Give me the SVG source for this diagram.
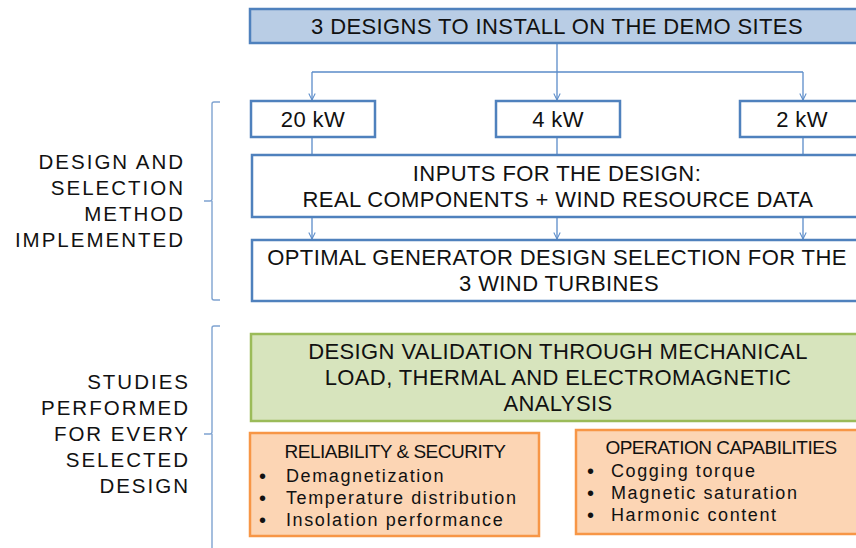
<svg xmlns="http://www.w3.org/2000/svg" width="856" height="548" viewBox="0 0 856 548">
  <style>
    text { font-family: "Liberation Sans", Arial, sans-serif; fill: #111; }
    .main { font-size: 22px; letter-spacing: 0.4px; text-anchor: middle; }
    .side { font-size: 20.5px; letter-spacing: 2px; text-anchor: end; }
    .head { font-size: 19px; letter-spacing: -0.5px; text-anchor: middle; }
    .item { font-size: 18px; letter-spacing: 1.6px; }
    .dot { font-size: 20px; }
    .blue { fill: #ffffff; stroke: #4f81bd; stroke-width: 2.5; }
    .blueFill { fill: #b9cde5; stroke: #4f81bd; stroke-width: 2.5; }
    .green { fill: #d7e4bd; stroke: #9bbb59; stroke-width: 2.5; }
    .orange { fill: #fcd5b4; stroke: #f79646; stroke-width: 2.5; }
    .wire { fill: none; stroke: #5b8cc9; stroke-width: 1.3; }
    .brace { fill: none; stroke: #7fa3d1; stroke-width: 1.4; }
  </style>
  <defs>
    <marker id="arrow" viewBox="0 0 10 10" refX="9" refY="5" markerWidth="8" markerHeight="8" markerUnits="userSpaceOnUse" orient="auto">
      <path d="M1,1 L9,5 L1,9" fill="none" stroke="#5b8cc9" stroke-width="1.3"/>
    </marker>
  </defs>

  <rect width="856" height="548" fill="#ffffff"/>

  <!-- side labels and braces -->
  <g id="label-design">
    <text class="side" x="185" y="169">DESIGN AND</text>
    <text class="side" x="185" y="195">SELECTION</text>
    <text class="side" x="185" y="221">METHOD</text>
    <text class="side" x="185" y="247">IMPLEMENTED</text>
    <path class="brace" d="M220,102 L214,102 Q212,102 212,104 L212,199 Q212,201 210,201 L204,201 M212,201 L212,298 Q212,300 214,300 L220,300"/>
  </g>
  <g id="label-studies">
    <text class="side" x="190" y="389">STUDIES</text>
    <text class="side" x="190" y="415">PERFORMED</text>
    <text class="side" x="190" y="441">FOR EVERY</text>
    <text class="side" x="190" y="467">SELECTED</text>
    <text class="side" x="190" y="493">DESIGN</text>
    <path class="brace" d="M220,326 L214,326 Q212,326 212,328 L212,432 Q212,434 210,434 L204,434 M212,434 L212,548"/>
  </g>

  <!-- connectors -->
  <g id="connectors">
    <path class="wire" d="M557,43 L557,72 M312,72 L803,72"/>
    <path class="wire" d="M312,72 L312,100" marker-end="url(#arrow)"/>
    <path class="wire" d="M557,72 L557,100" marker-end="url(#arrow)"/>
    <path class="wire" d="M803,72 L803,100" marker-end="url(#arrow)"/>
    <path class="wire" d="M312,137 L312,155 M557,137 L557,155 M803,137 L803,155"/>
    <path class="wire" d="M312,217 L312,239" marker-end="url(#arrow)"/>
    <path class="wire" d="M557,217 L557,239" marker-end="url(#arrow)"/>
    <path class="wire" d="M803,217 L803,239" marker-end="url(#arrow)"/>
  </g>

  <g id="designs">
    <rect class="blueFill" x="250" y="9" width="612" height="34"/>
    <text class="main" x="557" y="34">3 DESIGNS TO INSTALL ON THE DEMO SITES</text>
  </g>
  <g id="kw20">
    <rect class="blue" x="251" y="101" width="124" height="36"/>
    <text class="main" x="313" y="127">20 kW</text>
  </g>
  <g id="kw4">
    <rect class="blue" x="496" y="101" width="124" height="36"/>
    <text class="main" x="558" y="127">4 kW</text>
  </g>
  <g id="kw2">
    <rect class="blue" x="740" y="101" width="124" height="36"/>
    <text class="main" x="802" y="127">2 kW</text>
  </g>
  <g id="inputs">
    <rect class="blue" x="252" y="155" width="610" height="62"/>
    <text class="main" x="557" y="181">INPUTS FOR THE DESIGN:</text>
    <text class="main" x="558" y="207">REAL COMPONENTS + WIND RESOURCE DATA</text>
  </g>
  <g id="selection">
    <rect class="blue" x="252" y="240" width="610" height="61"/>
    <text class="main" x="557" y="265">OPTIMAL GENERATOR DESIGN SELECTION FOR THE</text>
    <text class="main" x="559" y="291">3 WIND TURBINES</text>
  </g>
  <g id="validation">
    <rect class="green" x="251" y="334" width="611" height="87"/>
    <text class="main" x="558" y="359">DESIGN VALIDATION THROUGH MECHANICAL</text>
    <text class="main" x="558" y="385">LOAD, THERMAL AND ELECTROMAGNETIC</text>
    <text class="main" x="558" y="411">ANALYSIS</text>
  </g>
  <g id="reliability">
    <rect class="orange" x="250" y="433" width="289" height="103"/>
    <text class="head" x="395" y="458">RELIABILITY &amp; SECURITY</text>
    <g class="item">
      <text class="dot" x="259" y="483">•</text><text x="286" y="482">Demagnetization</text>
      <text class="dot" x="259" y="505">•</text><text x="286" y="504">Temperature distribution</text>
      <text class="dot" x="259" y="527">•</text><text x="286" y="526">Insolation performance</text>
    </g>
  </g>
  <g id="operation">
    <rect class="orange" x="576" y="430" width="286" height="104"/>
    <text class="head" x="721" y="454">OPERATION CAPABILITIES</text>
    <g class="item">
      <text class="dot" x="587" y="478">•</text><text x="611" y="477">Cogging torque</text>
      <text class="dot" x="587" y="500">•</text><text x="611" y="499">Magnetic saturation</text>
      <text class="dot" x="587" y="522">•</text><text x="611" y="521">Harmonic content</text>
    </g>
  </g>
</svg>
